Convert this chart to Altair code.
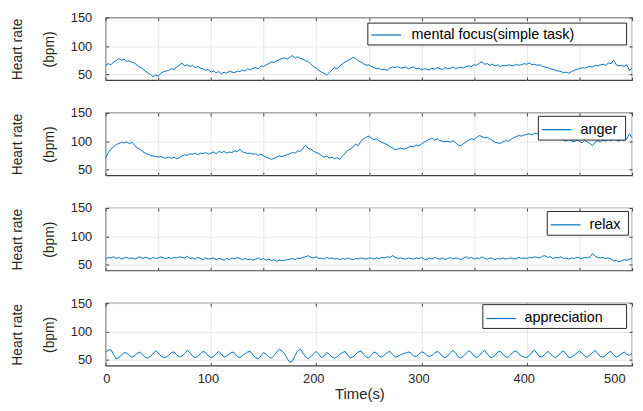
import altair as alt
import pandas as pd

STEP = 2.5  # seconds between samples

focus = [
    66, 69, 67, 72, 74, 78, 75, 77, 73, 74, 71, 70, 66, 63, 60, 56,
    53, 50, 46, 49, 47, 52, 55, 56, 57, 60, 59, 63, 66, 70, 65, 67, 64,
    66, 62, 64, 61, 60, 57, 59, 54, 56, 53, 55, 51, 54, 52, 56, 54,
    53, 56, 55, 58, 56, 60, 58, 61, 62, 60, 65, 64, 67, 69, 72, 71,
    74, 76, 78, 79, 77, 80, 83, 79, 81, 78, 77, 74, 72, 68, 64, 61, 57,
    54, 52, 49, 53, 58, 62, 60, 65, 69, 72, 74, 77, 80, 78, 74, 72,
    69, 66, 67, 64, 62, 60, 61, 58, 59, 57, 61, 63, 62, 64, 61, 62, 63,
    60, 62, 63, 60, 61, 58, 60, 59, 58, 61, 59, 62, 60, 59, 62, 60,
    61, 63, 60, 62, 63, 61, 64, 65, 64, 67, 66, 70, 72, 68, 69, 66,
    68, 65, 67, 64, 66, 65, 67, 66, 65, 68, 66, 67, 69, 68, 70, 67, 68,
    66, 67, 64, 63, 62, 60, 59, 57, 56, 55, 53, 54, 52, 55, 57, 59,
    60, 62, 61, 63, 64, 63, 66, 65, 67, 68, 66, 70, 69, 75, 67, 65,
    66, 64, 67, 57, 61,
]

anger = [
    70, 80, 86, 90, 94, 96, 98, 97, 99, 96, 98, 93, 88, 86, 82, 79,
    77, 75, 74, 73, 72, 73, 71, 70, 72, 70, 72, 69, 71, 74, 76, 75, 78,
    77, 79, 76, 79, 78, 80, 77, 79, 81, 78, 82, 80, 82, 79, 81, 80,
    83, 82, 86, 81, 80, 78, 79, 77, 78, 75, 77, 74, 72, 70, 68, 70,
    72, 74, 73, 75, 76, 78, 80, 79, 83, 82, 88, 93, 87, 86, 82, 80, 78,
    75, 72, 74, 70, 72, 69, 71, 68, 74, 79, 84, 86, 90, 95, 92, 100,
    104, 107, 109, 105, 103, 104, 100, 98, 96, 94, 91, 88, 85, 86, 88, 86, 87,
    89, 91, 90, 93, 92, 95, 98, 101, 103, 106, 102, 104, 101, 100, 99, 100,
    98, 101, 97, 93, 92, 96, 99, 102, 104, 103, 107, 110, 108, 106, 107, 104,
    101, 98, 97, 96, 99, 101, 100, 103, 106, 108, 110, 109, 111, 112, 113, 111, 114,
    113, 116, 114, 117, 115, 113, 111, 108, 106, 104, 102, 100, 103, 101, 99, 102,
    100, 97, 101, 99, 96, 92, 98, 101, 99, 102, 100, 103, 101, 104, 102, 100,
    103, 101, 104, 113, 106,
]

relax = [
    60, 63, 62, 64, 61, 63, 60, 62, 63, 61, 62, 60, 62, 64, 61, 63,
    62, 60, 63, 61, 62, 64, 62, 61, 63, 61, 63, 62, 64, 63, 62, 65, 61,
    62, 60, 63, 61, 59, 62, 60, 61, 62, 59, 61, 60, 58, 61, 59, 62,
    60, 63, 61, 59, 61, 59, 60, 58, 60, 62, 59, 61, 58, 60, 57, 59,
    56, 58, 57, 58, 59, 60, 61, 59, 62, 61, 63, 64, 66, 63, 62, 64, 61,
    62, 60, 63, 61, 62, 60, 61, 59, 61, 60, 62, 60, 59, 61, 60, 62,
    61, 60, 62, 61, 60, 62, 61, 63, 62, 64, 63, 66, 63, 61, 62, 61, 60,
    62, 61, 60, 62, 61, 63, 60, 59, 62, 60, 63, 61, 60, 62, 59, 61,
    63, 60, 62, 61, 59, 62, 64, 61, 63, 60, 62, 61, 64, 61, 60, 62,
    61, 59, 61, 60, 62, 60, 61, 62, 60, 61, 63, 61, 62, 61, 63, 62, 64,
    63, 62, 65, 66, 63, 64, 61, 63, 62, 64, 61, 62, 60, 62, 61, 63,
    62, 61, 63, 62, 64, 70, 65, 63, 62, 63, 61, 62, 60, 57, 58, 55,
    57, 59, 58, 60, 61,
]

appreciation = [
    64, 67, 68, 60, 52, 54, 58, 63, 62, 58, 55, 57, 62, 64, 59, 55,
    53, 56, 61, 66, 62, 57, 54, 55, 58, 63, 64, 59, 55, 57, 61, 67, 63,
    57, 54, 56, 61, 65, 63, 57, 54, 56, 61, 65, 60, 55, 57, 60, 64,
    62, 56, 54, 58, 61, 64, 65, 59, 54, 52, 57, 63, 60, 55, 53, 58,
    64, 69, 66, 61, 52, 46, 48, 58, 66, 69, 62, 55, 52, 56, 61, 65, 60,
    54, 57, 63, 60, 55, 53, 56, 60, 63, 65, 58, 54, 55, 60, 64, 66,
    60, 55, 54, 59, 64, 62, 56, 55, 59, 63, 65, 60, 55, 56, 59, 61, 62,
    64, 62, 57, 56, 60, 64, 63, 58, 56, 58, 62, 65, 62, 56, 54, 57,
    63, 67, 62, 55, 53, 57, 62, 66, 63, 57, 54, 58, 63, 67, 61, 55,
    54, 58, 64, 65, 60, 55, 55, 60, 64, 66, 60, 57, 55, 54, 58, 64, 67,
    61, 55, 56, 61, 65, 61, 56, 54, 58, 63, 66, 60, 54, 55, 58, 62,
    66, 62, 57, 55, 59, 63, 67, 61, 56, 55, 58, 63, 65, 59, 55, 57,
    61, 64, 60, 58, 61,
]

series_names = ["mental focus(simple task)", "anger", "relax", "appreciation"]
series_values = [focus, anger, relax, appreciation]
y_ticks = [50, 100, 150]
x_tick_steps = [50, 50, 50, 100]

# legend layout (plot-relative position, entry height, blank space after label)
legend_x = [264, 436, 445, 380]
legend_y = [5, 3, 3, 1]
legend_entry = [17, 20, 20, 21]
legend_extra = [12, 1, 1, 5]
SAMPLE_LEN = 30  # px length of the legend line sample

FONT = "Liberation Sans"
BLUE = "#0072BD"
FRAME = "#404040"
TEXT = "#262626"
GRID = "#e6e6e6"
W, H = 531, 63


def panel(i):
    vals = series_values[i]
    df = pd.DataFrame({
        "t": [k * STEP for k in range(len(vals))],
        "hr": vals,
        "series": series_names[i],
    })
    xt = list(range(0, 501, x_tick_steps[i]))
    last = i == 3
    xscale = alt.Scale(domain=[0, 500], nice=False, zero=False)
    yscale = alt.Scale(domain=[40, 150], nice=False, zero=False)

    if last:
        xaxis = alt.Axis(values=xt, grid=True, domain=False, ticks=True,
                         tickSize=3, offset=-3, tickColor=FRAME, labels=True,
                         labelPadding=7,
                         labelOffset={"condition": {"test": "datum.value == 500",
                                                    "value": -7},
                                      "value": -3},
                         title="Time(s)", titleFontSize=15,
                         titlePadding=1, titleX=256, titleAlign="center")
    else:
        xaxis = alt.Axis(values=xt, grid=True, domain=False, ticks=True,
                         tickSize=3, offset=-3, tickColor=FRAME, labels=False,
                         title=None)
    yaxis = alt.Axis(values=y_ticks, grid=True, domain=False, ticks=True,
                     tickSize=3, offset=-3, tickColor=FRAME, labelPadding=14,
                     title=["Heart rate", "(bpm)"], titleAngle=270,
                     titleBaseline="top", titleAlign="center",
                     titleX=-98.5, titleY=H / 2, titleLineHeight=32,
                     titleFontSize=14)

    s = legend_entry[i]
    half = SAMPLE_LEN / s
    path = f"M-{half:.4f},0L{half:.4f},0"
    extra = "\u00a0" * legend_extra[i] + "\u200b"
    legend = alt.Legend(orient="none", legendX=legend_x[i], legendY=legend_y[i],
                        title=None, symbolType=path, symbolSize=s * s,
                        symbolStrokeWidth=1.2, symbolOffset=SAMPLE_LEN / 2 - s / 2,
                        labelFontSize=14.5, labelOffset=SAMPLE_LEN + 3 - s,
                        padding=3, fillColor="white",
                        strokeColor=TEXT, labelColor="black", labelFont=FONT,
                        labelLimit=0,
                        labelExpr="datum.label + '" + extra + "'")

    main = alt.Chart(df).mark_line(strokeWidth=1, color=BLUE).encode(
        x=alt.X("t:Q", scale=xscale, axis=xaxis),
        y=alt.Y("hr:Q", scale=yscale, axis=yaxis),
        color=alt.Color("series:N", scale=alt.Scale(range=[BLUE]), legend=legend),
    )
    ticks = alt.Chart(df).mark_line(strokeOpacity=0).encode(
        x=alt.X("t:Q", scale=xscale,
                axis=alt.Axis(orient="top", values=xt, grid=False, domain=False,
                              labels=False, ticks=True, tickSize=3, offset=-3,
                              tickColor=FRAME, title=None)),
        y=alt.Y("hr:Q", scale=yscale,
                axis=alt.Axis(orient="right", values=y_ticks, grid=False,
                              domain=False, labels=False, ticks=True,
                              tickSize=3, offset=-3, tickColor=FRAME,
                              title=None)),
    )
    return alt.layer(main, ticks).resolve_axis(
        x="independent", y="independent").properties(width=W, height=H)


chart = alt.vconcat(*[panel(i) for i in range(4)], spacing=33, bounds="flush")
chart = chart.resolve_scale(color="independent").properties(
    padding={"top": 1, "left": 1.5, "right": 0, "bottom": 0}
).configure_view(stroke=FRAME, strokeWidth=1.2).configure_axis(
    labelFont=FONT, labelFontSize=13, labelColor=TEXT,
    titleFont=FONT, titleColor=TEXT, titleFontWeight="normal",
    gridColor=GRID, gridWidth=1,
).configure_legend(labelFont=FONT)

chart.save("out.html", embed_options={"renderer": "svg", "actions": False})
